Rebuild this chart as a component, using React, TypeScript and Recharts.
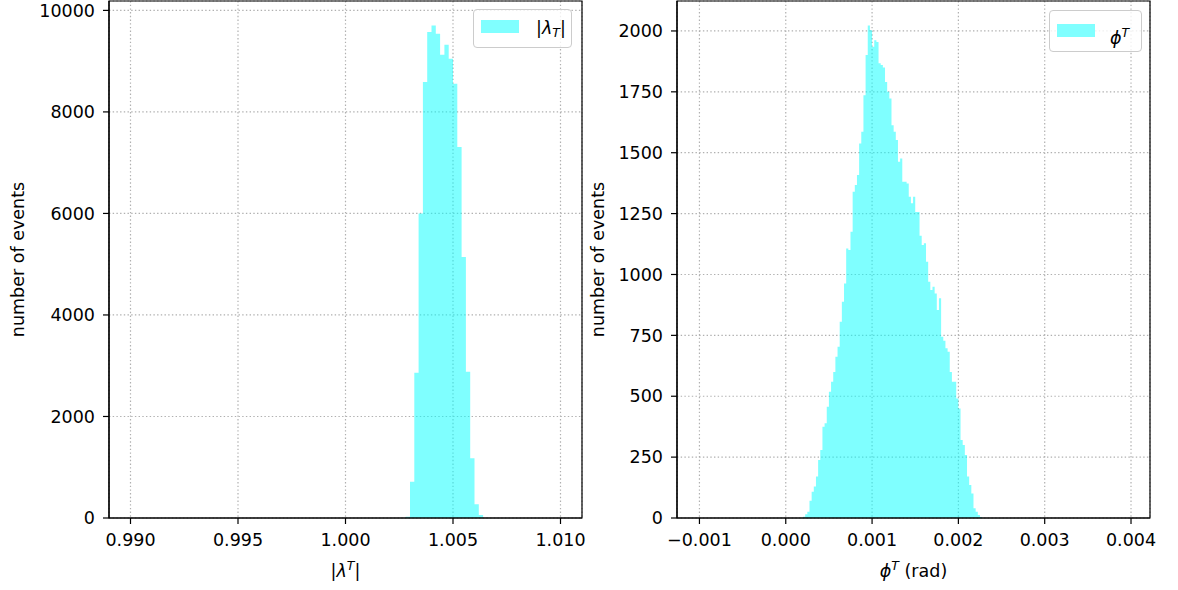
import {
  AreaChart,
  Area,
  XAxis,
  YAxis,
  CartesianGrid,
  Legend,
  ReferenceArea,
} from "recharts";

const FONT = '"DejaVu Sans", "Liberation Sans", sans-serif';
const FS = 17.5;
const CYAN = "#00ffff";

// |lambda^T| histogram (0.0002 wide bins), only the filled bins
const lambdaFirstBin = 1.0028;
const lambdaBinWidth = 0.0002;
const lambdaCounts = [
  25, 715, 2860, 5997, 8589, 9573, 9700, 9541, 9128, 9325, 9048, 8557, 7310,
  5143, 2880, 1175, 269, 59,
];
const lambdaTicks = [0.99, 0.995, 1.0, 1.005, 1.01];
const lambdaXDomain = [0.989, 1.011];
const lambdaCountTicks = [0, 2000, 4000, 6000, 8000, 10000];
const lambdaYMax = 10185;

// phi^T histogram (0.000025 wide bins), only the filled bins
const phiFirstBin = 0.0002;
const phiBinWidth = 0.000025;
const phiCounts = [
  5, 15, 26, 71, 108, 129, 170, 238, 279, 375, 389, 457, 518, 559, 600, 662,
  703, 806, 888, 963, 1107, 1100, 1175, 1340, 1367, 1408, 1538, 1586, 1736,
  1901, 2022, 2003, 1935, 1962, 1955, 1867, 1860, 1850, 1790, 1750, 1723, 1613,
  1586, 1552, 1463, 1476, 1381, 1381, 1374, 1319, 1292, 1319, 1257, 1257, 1159,
  1121, 1128, 1052, 970, 936, 950, 922, 854, 902, 744, 728, 697, 683, 600, 559,
  559, 491, 450, 320, 300, 259, 170, 135, 101, 40, 26, 12, 4,
];
const phiTicks = [-0.001, 0, 0.001, 0.002, 0.003, 0.004];
const phiXDomain = [-0.00126, 0.00422];
const phiCountTicks = [0, 250, 500, 750, 1000, 1250, 1500, 1750, 2000];
const phiYMax = 2123;

// step outline of a histogram: one point per left bin edge, closed at the last edge
function toSteps(first: number, width: number, counts: number[]) {
  const pts = counts.map((n, i) => ({ x: first + i * width, n }));
  pts.push({ x: first + counts.length * width, n: 0 });
  return pts;
}

const fmt3 = (v: number) =>
  (v < -1e-12 ? "\u2212" : "") + Math.abs(v).toFixed(3);

const tickStyle = { fontFamily: FONT, fontSize: FS, fill: "#000" };
const lineStyle = { stroke: "#000", strokeWidth: 1.2 };

const yLabel = (props: any) => {
  const { x, y, height } = props.viewBox;
  const cx = x + 18;
  const cy = y + height / 2;
  return (
    <text
      x={cx}
      y={cy}
      transform={`rotate(-90 ${cx} ${cy})`}
      textAnchor="middle"
      dominantBaseline="central"
      fontFamily={FONT}
      fontSize={FS}
      fill="#000"
    >
      number of events
    </text>
  );
};

const lambdaXLabel = (props: any) => {
  const { x, y, width } = props.viewBox;
  return (
    <text
      x={x + width / 2}
      y={y + 59}
      textAnchor="middle"
      fontFamily={FONT}
      fontSize={FS}
      fill="#000"
    >
      |<tspan fontStyle="italic">λ</tspan>
      <tspan fontStyle="italic" fontSize={12.5} dy={-7}>T</tspan>
      <tspan dy={7}>|</tspan>
    </text>
  );
};

const phiXLabel = (props: any) => {
  const { x, y, width } = props.viewBox;
  return (
    <text
      x={x + width / 2}
      y={y + 59}
      textAnchor="middle"
      fontFamily={FONT}
      fontSize={FS}
      fill="#000"
    >
      <tspan fontStyle="italic">ϕ</tspan>
      <tspan fontStyle="italic" fontSize={12.5} dy={-7}>T</tspan>
      <tspan dy={7}> (rad)</tspan>
    </text>
  );
};

function LegendBox({
  w,
  h,
  swatchTop,
  textLeft,
  textTop,
  children,
}: {
  w: number;
  h: number;
  swatchTop: number;
  textLeft: number;
  textTop: number;
  children: any;
}) {
  return (
    <div
      style={{
        position: "relative",
        width: w,
        height: h,
        boxSizing: "border-box",
        border: "1px solid #cccccc",
        borderRadius: 4,
        background: "rgba(255,255,255,0.8)",
        fontFamily: FONT,
        fontSize: FS,
        color: "#000",
      }}
    >
      <div
        style={{
          position: "absolute",
          left: 7,
          top: swatchTop,
          width: 38,
          height: 13,
          background: "#80ffff",
        }}
      />
      <div
        style={{
          position: "absolute",
          left: textLeft,
          top: textTop,
          lineHeight: "20px",
          whiteSpace: "nowrap",
        }}
      >
        {children}
      </div>
    </div>
  );
}

function LambdaPanel() {
  const data = toSteps(lambdaFirstBin, lambdaBinWidth, lambdaCounts);
  return (
    <AreaChart
      width={600}
      height={590}
      data={data}
      margin={{ top: 1, right: 18, bottom: 0, left: 0 }}
    >
      <CartesianGrid stroke="#b0b0b0" strokeDasharray="1.4 2.3" strokeWidth={1.2} />
      <XAxis
        dataKey="x"
        type="number"
        domain={lambdaXDomain}
        ticks={lambdaTicks}
        interval={0}
        tickFormatter={fmt3}
        height={72}
        tick={tickStyle}
        tickSize={6}
        tickMargin={10}
        axisLine={lineStyle}
        tickLine={lineStyle}
        allowDataOverflow
        label={lambdaXLabel}
      />
      <YAxis
        type="number"
        domain={[0, lambdaYMax]}
        ticks={lambdaCountTicks}
        interval={0}
        width={109}
        tick={tickStyle}
        tickSize={6}
        tickMargin={8}
        axisLine={lineStyle}
        tickLine={lineStyle}
        allowDataOverflow
        label={yLabel}
      />
      <Area
        type="stepAfter"
        dataKey="n"
        stroke="none"
        fill={CYAN}
        fillOpacity={0.5}
        dot={false}
        activeDot={false}
        isAnimationActive={false}
      />
      <ReferenceArea
        x1={lambdaXDomain[0]}
        x2={lambdaXDomain[1]}
        y1={0}
        y2={lambdaYMax}
        fill="none"
        stroke="#000"
        strokeWidth={1.2}
      />
      <Legend
        layout="vertical"
        verticalAlign="middle"
        align="center"
        wrapperStyle={{ left: 473, top: 9, width: 99, height: 39 }}
        content={() => (
          <LegendBox w={99} h={39} swatchTop={10} textLeft={62} textTop={8}>
            |<i>λ</i>
            <sub style={{ fontSize: 12.5, fontStyle: "italic", verticalAlign: "-3px" }}>T</sub>|
          </LegendBox>
        )}
      />
    </AreaChart>
  );
}

function PhiPanel() {
  const data = toSteps(phiFirstBin, phiBinWidth, phiCounts);
  return (
    <AreaChart
      width={598}
      height={590}
      data={data}
      margin={{ top: 1, right: 28, bottom: 0, left: 0 }}
    >
      <CartesianGrid stroke="#b0b0b0" strokeDasharray="1.4 2.3" strokeWidth={1.2} />
      <XAxis
        dataKey="x"
        type="number"
        domain={phiXDomain}
        ticks={phiTicks}
        interval={0}
        tickFormatter={fmt3}
        height={72}
        tick={tickStyle}
        tickSize={6}
        tickMargin={10}
        axisLine={lineStyle}
        tickLine={lineStyle}
        allowDataOverflow
        label={phiXLabel}
      />
      <YAxis
        type="number"
        domain={[0, phiYMax]}
        ticks={phiCountTicks}
        interval={0}
        width={97}
        tick={tickStyle}
        tickSize={6}
        tickMargin={8}
        axisLine={lineStyle}
        tickLine={lineStyle}
        allowDataOverflow
        label={yLabel}
      />
      <Area
        type="stepAfter"
        dataKey="n"
        stroke="none"
        fill={CYAN}
        fillOpacity={0.5}
        dot={false}
        activeDot={false}
        isAnimationActive={false}
      />
      <ReferenceArea
        x1={phiXDomain[0]}
        x2={phiXDomain[1]}
        y1={0}
        y2={phiYMax}
        fill="none"
        stroke="#000"
        strokeWidth={1.2}
      />
      <Legend
        layout="vertical"
        verticalAlign="middle"
        align="center"
        wrapperStyle={{ left: 469, top: 10, width: 93, height: 42 }}
        content={() => (
          <LegendBox w={93} h={42} swatchTop={13} textLeft={60} textTop={12}>
            <i>ϕ</i>
            <sup style={{ fontSize: 12.5, fontStyle: "italic", verticalAlign: "7px" }}>T</sup>
          </LegendBox>
        )}
      />
    </AreaChart>
  );
}

export default function App() {
  return (
    <div
      style={{
        position: "absolute",
        left: 0,
        top: 0,
        width: 1178,
        height: 590,
        background: "#fff",
        overflow: "hidden",
      }}
    >
      <div style={{ position: "absolute", left: 0, top: 0 }}>
        <LambdaPanel />
      </div>
      <div style={{ position: "absolute", left: 580, top: 0 }}>
        <PhiPanel />
      </div>
    </div>
  );
}
